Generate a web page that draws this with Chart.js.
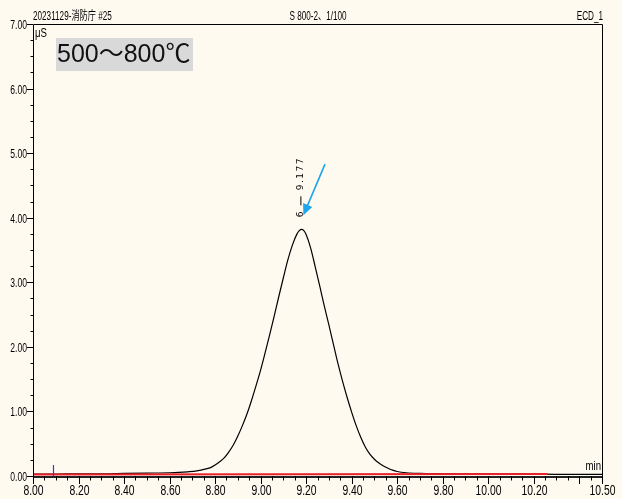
<!DOCTYPE html>
<html>
<head>
<meta charset="utf-8">
<script src="https://cdn.jsdelivr.net/npm/chart.js@4.4.0/dist/chart.umd.min.js"></script>
<style>
  html, body { margin: 0; padding: 0; background: #fffaf0; }
</style>
</head>
<body>
<canvas id="myChart" width="622" height="499"></canvas>
<script>
// chromatogram trace (retention time in min, signal in µS)
const retentionTimes = [
  8.00, 8.10, 8.20, 8.30, 8.40, 8.50, 8.60, 8.64, 8.68, 8.72, 8.76,
  8.78, 8.80, 8.82, 8.84, 8.86, 8.88, 8.90, 8.92, 8.94, 8.96, 8.98,
  9.00, 9.02, 9.04, 9.06, 9.08, 9.10, 9.12, 9.14, 9.16, 9.17, 9.18, 9.19,
  9.20, 9.22, 9.24, 9.26, 9.28, 9.30, 9.32, 9.34, 9.36, 9.38, 9.40,
  9.42, 9.44, 9.46, 9.48, 9.50, 9.52, 9.54, 9.56, 9.58, 9.60, 9.64, 9.70,
  9.80, 9.90, 10.00, 10.10, 10.20, 10.30, 10.40, 10.50
];
const signal = [
  0.03, 0.03, 0.035, 0.035, 0.04, 0.045, 0.05, 0.055, 0.065, 0.08, 0.11,
  0.13, 0.17, 0.22, 0.28, 0.37, 0.48, 0.62, 0.78, 0.96, 1.17, 1.40,
  1.64, 1.91, 2.19, 2.48, 2.78, 3.07, 3.35, 3.58, 3.75, 3.80, 3.82, 3.80,
  3.74, 3.53, 3.24, 2.94, 2.63, 2.34, 2.04, 1.74, 1.47, 1.22, 0.99,
  0.78, 0.60, 0.45, 0.34, 0.26, 0.20, 0.155, 0.12, 0.09, 0.07, 0.05, 0.04,
  0.035, 0.03, 0.03, 0.03, 0.03, 0.025, 0.025, 0.025
];
// integration baseline (red)
const baselineTimes = [8.00, 10.26];
const baselineValues = [0.025, 0.03];
// injection marker (blue)
const markerTimes = [8.09, 8.09];
const markerValues = [0.0, 0.17];

// peak label + arrow
const peakNumber = "6";
const peakTime = 9.177;
const peakTop = 3.82;
const arrowFrom = [9.283, 4.83];
const arrowTo = [9.188, 4.04];

const headerLeft = "20231129-消防庁 #25";
const headerMid = "S 800-2、1/100";
const headerRight = "ECD_1";
const yUnit = "μS";
const xUnit = "min";
const boxLabel = "500～800℃";

const sans = "'Liberation Sans', Arial, 'Noto Sans CJK JP', sans-serif";
const pairs = (xs, ys) => xs.map((x, i) => ({ x: x, y: ys[i] }));

// draws text squeezed horizontally (the original uses a narrow font)
function narrowText(ctx, text, x, y, size, align, sx) {
  ctx.save();
  ctx.font = size + "px " + sans;
  ctx.textAlign = align;
  ctx.textBaseline = "middle";
  ctx.translate(x, y);
  ctx.scale(sx, 1);
  ctx.fillText(text, 0, 0);
  ctx.restore();
}

const decor = {
  id: "decor",
  beforeDraw(chart) {
    const ctx = chart.ctx;
    ctx.save();
    ctx.fillStyle = "#fffaf0";
    ctx.fillRect(0, 0, chart.width, chart.height);
    ctx.restore();
  },
  afterDraw(chart) {
    const ctx = chart.ctx;
    const a = chart.chartArea;
    const xs = chart.scales.x;
    const ys = chart.scales.y;
    ctx.save();
    // frame
    ctx.strokeStyle = "#000";
    ctx.lineWidth = 1;
    ctx.beginPath();
    ctx.moveTo(a.left + 0.5, a.bottom);
    ctx.lineTo(a.left + 0.5, a.top + 0.5);
    ctx.lineTo(a.right + 0.5, a.top + 0.5);
    ctx.lineTo(a.right + 0.5, a.bottom);
    ctx.stroke();
    ctx.strokeStyle = "#222";
    ctx.lineWidth = 2;
    ctx.beginPath();
    ctx.moveTo(a.left, a.bottom + 1);
    ctx.lineTo(a.right + 1, a.bottom + 1);
    ctx.stroke();

    ctx.fillStyle = "#000";
    ctx.strokeStyle = "#000";
    ctx.lineWidth = 1;
    // x ticks + labels
    xs.ticks.forEach((t) => {
      const v = Math.round(t.value * 100);
      const px = Math.round(xs.getPixelForValue(t.value)) + 0.5;
      const major = v % 20 === 0 || v === 1050;
      ctx.beginPath();
      ctx.moveTo(px, a.bottom);
      ctx.lineTo(px, a.bottom + (major ? 8 : 4.5));
      ctx.stroke();
      if (major && v !== 1040) {
        narrowText(ctx, (v / 100).toFixed(2), px, a.bottom + 15, 14, "center", 0.74);
      }
    });
    // y ticks + labels
    ys.ticks.forEach((t) => {
      const v = Math.round(t.value * 100);
      const py = Math.round(ys.getPixelForValue(t.value)) + 0.5;
      const major = v % 100 === 0;
      ctx.beginPath();
      ctx.moveTo(a.left - (major ? 6 : 2.5), py);
      ctx.lineTo(a.left, py);
      ctx.stroke();
      if (major) {
        narrowText(ctx, (v / 100).toFixed(2), a.left - 6, py + 1, 13, "right", 0.66);
      }
    });

    // header texts
    narrowText(ctx, headerLeft, a.left, 17, 12, "left", 0.68);
    narrowText(ctx, headerMid, 318, 17, 12, "center", 0.68);
    narrowText(ctx, headerRight, a.right + 1, 17, 12, "right", 0.68);

    // units
    narrowText(ctx, yUnit, a.left + 2, 34, 12, "left", 0.8);
    narrowText(ctx, xUnit, a.right - 1, a.bottom - 9, 12, "right", 0.8);

    // temperature box
    ctx.fillStyle = "#d9d9d9";
    ctx.fillRect(56, 38, 137, 33);
    ctx.fillStyle = "#111";
    ctx.font = "25px " + sans;
    ctx.textAlign = "left";
    ctx.textBaseline = "middle";
    ctx.fillText(boxLabel, 57, 55);

    // peak label (rotated)
    const px = xs.getPixelForValue(peakTime);
    const py = ys.getPixelForValue(peakTop) - 12;
    ctx.save();
    ctx.translate(px, py);
    ctx.rotate(-Math.PI / 2);
    ctx.fillStyle = "#000";
    ctx.font = "9px 'DejaVu Sans', sans-serif";
    ctx.textAlign = "left";
    ctx.textBaseline = "middle";
    ctx.fillText(peakNumber, 0, 0);
    ctx.lineWidth = 1;
    ctx.beginPath();
    ctx.moveTo(12, 0);
    ctx.lineTo(21, 0);
    ctx.stroke();
    ctx.letterSpacing = "1.5px";
    ctx.fillText(peakTime.toFixed(3), 27, 0);
    ctx.restore();

    // arrow
    const x0 = xs.getPixelForValue(arrowFrom[0]);
    const y0 = ys.getPixelForValue(arrowFrom[1]);
    const x1 = xs.getPixelForValue(arrowTo[0]);
    const y1 = ys.getPixelForValue(arrowTo[1]);
    const ang = Math.atan2(y1 - y0, x1 - x0);
    ctx.strokeStyle = "#1ca6ee";
    ctx.fillStyle = "#1ca6ee";
    ctx.lineWidth = 1.6;
    ctx.beginPath();
    ctx.moveTo(x0, y0);
    ctx.lineTo(x1 - 6 * Math.cos(ang), y1 - 6 * Math.sin(ang));
    ctx.stroke();
    ctx.beginPath();
    ctx.moveTo(x1, y1);
    ctx.lineTo(x1 - 11 * Math.cos(ang) + 5 * Math.sin(ang), y1 - 11 * Math.sin(ang) - 5 * Math.cos(ang));
    ctx.lineTo(x1 - 11 * Math.cos(ang) - 5 * Math.sin(ang), y1 - 11 * Math.sin(ang) + 5 * Math.cos(ang));
    ctx.closePath();
    ctx.fill();
    ctx.restore();
  }
};

const ctx = document.getElementById("myChart");
new Chart(ctx, {
  type: "scatter",
  data: {
    datasets: [
      {
        label: "blank",
        data: pairs(markerTimes, markerValues),
        showLine: true,
        borderColor: "#3333ff",
        borderWidth: 1.2,
        pointRadius: 0,
        order: 1,
      },
      {
        label: "baseline",
        data: pairs(baselineTimes, baselineValues),
        showLine: true,
        borderColor: "#e8202a",
        borderWidth: 2,
        pointRadius: 0,
        order: 2,
      },
      {
        label: "ECD_1",
        data: pairs(retentionTimes, signal),
        showLine: true,
        borderColor: "#000",
        borderWidth: 1.2,
        pointRadius: 0,
        cubicInterpolationMode: "monotone",
        order: 3,
      },
    ],
  },
  options: {
    responsive: false,
    animation: false,
    devicePixelRatio: 1,
    layout: { padding: { top: 24, right: 20, left: 0, bottom: 0 } },
    plugins: { legend: { display: false }, tooltip: { enabled: false } },
    scales: {
      x: {
        type: "linear",
        min: 8,
        max: 10.5,
        border: { display: false },
        grid: { display: false },
        afterFit: (s) => { s.height = 23; },
        ticks: {
          stepSize: 0.05,
          autoSkip: false,
          maxRotation: 0,
          display: false,
        },
      },
      y: {
        min: 0,
        max: 7,
        border: { display: false },
        grid: { display: false },
        afterFit: (s) => { s.width = 33; },
        ticks: {
          stepSize: 0.25,
          autoSkip: false,
          display: false,
        },
      },
    },
  },
  plugins: [decor],
});
</script>
</body>
</html>
